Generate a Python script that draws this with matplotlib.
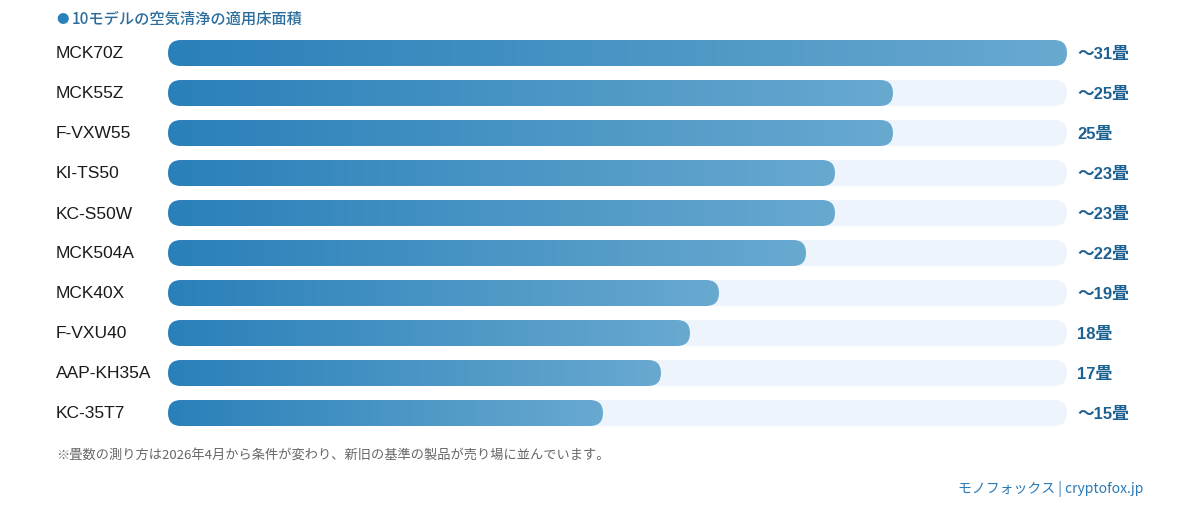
import numpy as np
import matplotlib
matplotlib.use("Agg")
import matplotlib.pyplot as plt
from matplotlib.patches import FancyBboxPatch
from matplotlib.colors import LinearSegmentedColormap

plt.rcParams['font.family'] = ['Noto Sans CJK JP', 'DejaVu Sans']
latin = ['Liberation Sans', 'Noto Sans CJK JP']

# データ
models = ["MCK70Z", "MCK55Z", "F-VXW55", "KI-TS50", "KC-S50W",
          "MCK504A", "MCK40X", "F-VXU40", "AAP-KH35A", "KC-35T7"]
tatami = [31, 25, 25, 23, 23, 22, 19, 18, 17, 15]
labels = ["〜31畳", "〜25畳", "25畳", "〜23畳", "〜23畳",
          "〜22畳", "〜19畳", "18畳", "17畳", "〜15畳"]
max_val = 31

title = "10モデルの空気清浄の適用床面積"
note = "※畳数の測り方は2026年4月から条件が変わり、新旧の基準の製品が売り場に並んでいます。"
source = "モノフォックス | cryptofox.jp"

W, H = 1200, 518
fig = plt.figure(figsize=(W / 100, H / 100), dpi=100)
fig.patch.set_facecolor("white")

# バー領域 (px: x 168-1067, y 33-433)
ax = fig.add_axes([168 / W, (H - 433) / H, 899 / W, 400 / H])
ax.set_xlim(0, max_val)
ax.set_ylim(len(models) - 0.5, -0.5)
ax.axis("off")

px_x = max_val / 899.0  # x units per pixel
px_y = 1 / 40.0          # y units per pixel
aspect = px_y / px_x
bh = 26 * px_y
r = 13 * px_x

cmap = LinearSegmentedColormap.from_list("bar", ["#2a80b9", "#68a9d0"])
grad = np.linspace(0, 1, 256).reshape(1, -1)

for i, (m, v, lab) in enumerate(zip(models, tatami, labels)):
    track = FancyBboxPatch((0, i - bh / 2), max_val, bh,
                           boxstyle=f"round,pad=0,rounding_size={r}",
                           mutation_aspect=aspect, fc="#edf4fb", ec="none")
    ax.add_patch(track)
    bar = FancyBboxPatch((0, i - bh / 2), v, bh,
                         boxstyle=f"round,pad=0,rounding_size={r}",
                         mutation_aspect=aspect, fc="none", ec="none")
    ax.add_patch(bar)
    im = ax.imshow(grad, cmap=cmap, aspect="auto",
                   extent=(0, v, i + bh / 2, i - bh / 2), zorder=2)
    im.set_clip_path(bar)
    ax.text(max_val + 10 * px_x, i + 1.5 * px_y, lab, ha="left", va="center",
            fontsize=12, fontweight="bold", color="#1d6193", family=latin)
    fig.text(56 / W, 1 - (54 + 40 * i) / H, m, ha="left", va="center",
             fontsize=12.5, color="#1a1a1a", family=latin)

ax.set_xlim(0, max_val)
ax.set_ylim(len(models) - 0.5, -0.5)

# タイトル
fig.text(56 / W, 1 - 19 / H, "●", ha="left", va="center",
         fontsize=9, color="#2a80b9")
fig.text(72 / W, 1 - 19 / H, title, ha="left", va="center",
         fontsize=11, fontweight="medium", color="#2b6d9c")

fig.text(56 / W, 1 - 455 / H, note, ha="left", va="center",
         fontsize=9.5, color="#666666")
fig.text(1143 / W, 1 - 489 / H, source, ha="right", va="center",
         fontsize=10, color="#2a7ab5")

fig.savefig("out.png", dpi=100, facecolor="white")
